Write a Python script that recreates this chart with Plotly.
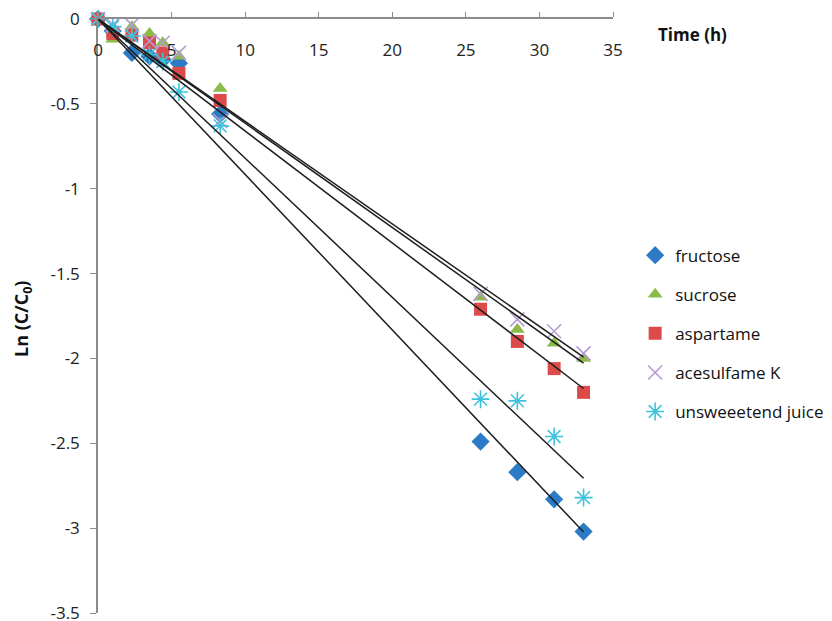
import numpy as np
import plotly.graph_objects as go

time_h = [0, 1, 2.3, 3.5, 4.4, 5.5, 8.3, 26, 28.5, 31, 33]
fructose = [0, -0.07, -0.2, -0.22, -0.24, -0.26, -0.56, -2.49, -2.67, -2.83, -3.02]
sucrose = [0, -0.12, -0.045, -0.085, -0.14, -0.22, -0.41, -1.64, -1.83, -1.91, -2.0]
aspartame = [0, -0.085, -0.095, -0.14, -0.2, -0.32, -0.48, -1.71, -1.90, -2.06, -2.20]
acesulfame_k = [0, -0.035, -0.035, -0.13, -0.14, -0.2, -0.6, -1.62, -1.77, -1.84, -1.97]
unsweetened = [0, -0.045, -0.1, -0.21, -0.25, -0.43, -0.63, -2.24, -2.25, -2.46, -2.82]

series_names = ["fructose", "sucrose", "aspartame", "acesulfame K", "unsweeetend juice"]
series_values = [fructose, sucrose, aspartame, acesulfame_k, unsweetened]

x_ticks = [0, 5, 10, 15, 20, 25, 30, 35]
y_ticks = [0, -0.5, -1, -1.5, -2, -2.5, -3, -3.5]
y_tick_text = ["0", "-0.5", "-1", "-1.5", "-2", "-2.5", "-3", "-3.5"]

styles = [
    dict(symbol="diamond", size=14, color="#2C7BC6", line=dict(width=0)),
    dict(symbol="triangle-up", size=13, color="#8DBB49", line=dict(width=0)),
    dict(symbol="square", size=13, color="#DD4A4A", line=dict(width=0)),
    dict(symbol="x-thin-open", size=14, color="#B59BD3", line=dict(width=1.6, color="#B59BD3")),
    dict(symbol="asterisk-open", size=15, color="#3FC3DC", line=dict(width=1.6, color="#3FC3DC")),
]

fig = go.Figure()
t = np.array(time_h)
for i, (name, vals, st) in enumerate(zip(series_names, series_values, styles)):
    fig.add_trace(go.Scatter(
        x=time_h, y=vals, mode="markers", name=name,
        marker=st, cliponaxis=False, legendgroup=f"g{i}",
    ))

# linear trendlines through the origin (least squares), drawn on the label axis
for vals in series_values:
    v = np.array(vals)
    slope = float((t * v).sum() / (t * t).sum())
    xl = [0, max(time_h)]
    fig.add_trace(go.Scatter(
        x=xl, y=[slope * xx for xx in xl], mode="lines", xaxis="x2",
        line=dict(color="#1e1e1e", width=1.5), showlegend=False,
        hoverinfo="skip", cliponaxis=False,
    ))

font_family = "Open Sans, DejaVu Sans, sans-serif"
axis_grey = "#8c8c8c"
fig.update_layout(
    width=832, height=621,
    margin=dict(l=98, r=219, t=19, b=8, autoexpand=False),
    plot_bgcolor="white", paper_bgcolor="white",
    font=dict(family=font_family, size=17, color="#222222"),
    showlegend=True,
    legend=dict(
        x=1.043, y=0.632, xanchor="left", yanchor="top",
        font=dict(size=17, color="#111111"),
        tracegroupgap=14, itemwidth=30, bgcolor="rgba(0,0,0,0)",
    ),
    xaxis=dict(
        range=[0, 35], tickvals=x_ticks, side="top",
        ticks="outside", ticklen=5, tickcolor=axis_grey,
        showline=True, linecolor=axis_grey, linewidth=1.5,
        showticklabels=False, automargin=False,
        showgrid=False, zeroline=False,
    ),
    xaxis2=dict(
        overlaying="x", matches="x", range=[0, 35], tickvals=x_ticks,
        anchor="free", position=1, side="bottom",
        ticks="", showline=False, showgrid=False, zeroline=False,
        ticklabelstandoff=19, automargin=False, ticklabeloverflow="allow",
        tickfont=dict(size=17, color="#222222"),
    ),
    yaxis=dict(
        range=[-3.5, 0], tickvals=y_ticks, ticktext=y_tick_text,
        ticks="outside", ticklen=6, tickcolor=axis_grey,
        showline=True, linecolor=axis_grey, linewidth=1.5,
        ticklabelstandoff=7, automargin=False, ticklabeloverflow="allow",
        showgrid=False, zeroline=False,
        tickfont=dict(size=17, color="#222222"),
    ),
    annotations=[
        dict(text="<b>Time (h)</b>", xref="paper", yref="paper",
             x=(692 - 98) / 515, y=(613 - 35) / 594, xanchor="center", yanchor="middle",
             showarrow=False, font=dict(size=17, color="#111111")),
        dict(text="<b>Ln (C/C<sub>0</sub>)</b>", xref="paper", yref="paper",
             x=(23 - 98) / 515, y=(613 - 319) / 594, xanchor="center", yanchor="middle",
             textangle=-90, showarrow=False, font=dict(size=18, color="#111111")),
    ],
)

fig.write_html("out.html", config={"displayModeBar": False},
               post_script="document.body.style.margin='0';")
